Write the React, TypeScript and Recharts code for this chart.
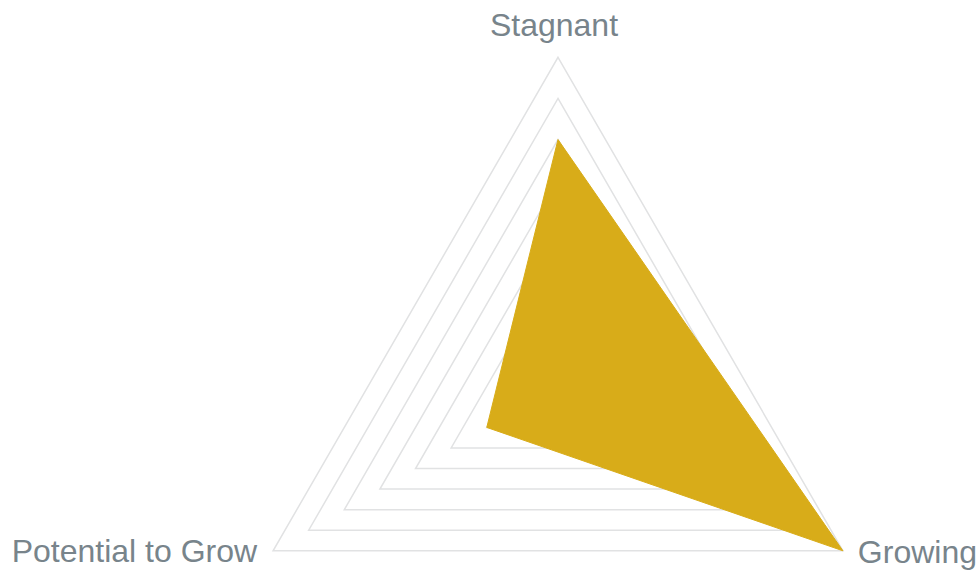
import { RadarChart, Radar, PolarGrid, PolarAngleAxis, PolarRadiusAxis } from 'recharts'

const categories = ['Stagnant', 'Growing', 'Potential to Grow']
const values = [6, 8, 2]
const radiusTicks = [0, 1, 2, 3, 4, 5, 6, 7, 8]

const data = categories.map((name, i) => ({ name, value: values[i] }))

const AngleTick = (props: any) => {
  const { x, y, textAnchor, payload } = props
  let dx = -4
  let dy = -13
  if (textAnchor === 'start') {
    dx = 8
    dy = 8
  } else if (textAnchor === 'end') {
    dx = -9
    dy = 7
  }
  return (
    <text
      x={x + dx}
      y={y + dy}
      textAnchor={textAnchor}
      fill="#78848b"
      fontSize={32}
      fontFamily="'Liberation Sans', Arial, sans-serif"
    >
      {payload.value}
    </text>
  )
}

export default function App() {
  return (
    <div style={{ position: 'absolute', left: 0, top: 0, width: 978, height: 574 }}>
      <RadarChart
        width={978}
        height={574}
        data={data}
        cx={558}
        cy={386.3}
        outerRadius={329}
        margin={{ top: 0, right: 0, bottom: 0, left: 0 }}
      >
        <PolarGrid gridType="polygon" radialLines={false} stroke="#e1e2e3" strokeWidth={1.5} />
        <PolarAngleAxis dataKey="name" tick={<AngleTick />} tickLine={false} axisLine={false} />
        <PolarRadiusAxis
          domain={[0, 8]}
          ticks={radiusTicks as any}
          tickCount={9}
          tick={false}
          axisLine={false}
        />
        <Radar
          dataKey="value"
          fill="#d8ac19"
          fillOpacity={1}
          stroke="#d8ac19"
          strokeWidth={1}
          isAnimationActive={false}
        />
      </RadarChart>
    </div>
  )
}
